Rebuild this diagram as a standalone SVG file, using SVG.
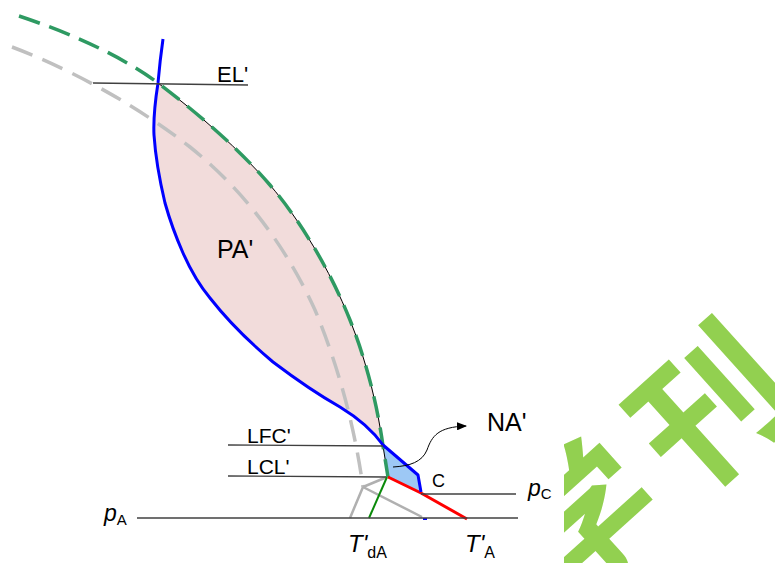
<svg xmlns="http://www.w3.org/2000/svg" width="775" height="563" viewBox="0 0 775 563">
<defs>
<style>
.lbl{font-family:"Liberation Sans",Arial,sans-serif;fill:#000}
.it{font-style:italic}
.ref{stroke:#404040;stroke-width:1.3;fill:none}
.gdash{stroke:#2e9a62;stroke-width:3.5;fill:none;stroke-dasharray:22 10}
.ydash{stroke:#c0c0c0;stroke-width:3.5;fill:none;stroke-dasharray:22 11}
.gray{stroke:#b0b0b0;stroke-width:2.5;fill:none}
.blue{stroke:#0000ff;stroke-width:3;fill:none;stroke-linejoin:round}
.red{stroke:#ff0000;stroke-width:3;fill:none}
.wm{font-family:"Noto Sans CJK SC",sans-serif;font-weight:bold;fill:#92d050}
</style>
<marker id="ah" markerWidth="10" markerHeight="8" refX="9" refY="4" orient="auto" markerUnits="userSpaceOnUse">
<path d="M0,0 L10,4 L0,8 Z" fill="#000"/>
</marker>
<clipPath id="wmclip"><rect x="564" y="0" width="211" height="563"/></clipPath>
</defs>

<g id="watermark" clip-path="url(#wmclip)">
<g transform="translate(704,400) rotate(-42)">
<text class="wm" x="0" y="0" font-size="150" text-anchor="middle" dominant-baseline="central">刊</text>
<text class="wm" x="-172" y="0" font-size="150" text-anchor="middle" dominant-baseline="central">学</text>
</g>
</g>

<g id="PA-region">
<path d="M158,83 Q153,115 154,135 Q156,165 165,203 Q172,228 183,253 Q195,280 210,298 Q235,330 273,362 Q310,390 340,407 Q368,424 383,445 C378,410 368,365 350,320 C330,270 300,220 270,185 C240,150 200,115 158,83 Z" fill="#f2dcdb"/>
</g>
<g id="NA-region">
<path d="M383,446 L418,475 L421,492 L388,477 Z" fill="#9dc8f5"/>
</g>

<g id="connectors">
<path class="ydash" d="M12,47 C60,65 130,100 190,147 C250,195 290,255 315,310 C340,370 355,430 363,487"/>
<path class="gray" d="M363,487 L350,518 M363,487 L387,477 M363,487 L422,517"/>
<path d="M158,83 C200,115 240,150 270,185 C300,220 330,270 350,320 C368,365 378,410 383,446 L388,477" stroke="#000" stroke-width="1" fill="none"/>
<path class="gdash" d="M19,16 C70,33 120,55 158,83 C200,115 240,150 270,185 C300,220 330,270 350,320 C368,365 378,410 383,446 L388,477"/>
<path d="M387,477 L369,518" stroke="#0a8a0a" stroke-width="2" fill="none"/>
<path class="red" d="M388,477 L421,493 L467,519"/>
<path class="blue" d="M163,39 Q160,60 158,83 Q153,115 154,135 Q156,165 165,203 Q172,228 183,253 Q195,280 210,298 Q235,330 273,362 Q310,390 340,407 Q368,424 383,445 L418,475 L421,492"/>
<path d="M423,519 L427,519" stroke="#0000ff" stroke-width="2"/>
<path class="ref" d="M93,83 L248,85"/>
<path class="ref" d="M228,445 L383,446"/>
<path class="ref" d="M228,476 L386,477"/>
<path class="ref" d="M137,518 L518,518"/>
<path class="ref" d="M421,494 L516,494"/>
<path d="M393,467 C410,466 422,462 427,450 C432,436 438,427 466,426" stroke="#000" stroke-width="1" fill="none" marker-end="url(#ah)"/>
</g>

<g id="labels">
<text class="lbl" x="217" y="82" font-size="22">EL'</text>
<text class="lbl" x="217" y="258" font-size="25">PA'</text>
<text class="lbl" x="247" y="443" font-size="21">LFC'</text>
<text class="lbl" x="247" y="474" font-size="21">LCL'</text>
<text class="lbl" x="487" y="431" font-size="25">NA'</text>
<text class="lbl" x="432" y="487" font-size="18">C</text>
<text class="lbl" x="528" y="496"><tspan class="it" font-size="23">p</tspan><tspan font-size="15" dy="3">C</tspan></text>
<text class="lbl" x="104" y="521"><tspan class="it" font-size="23">p</tspan><tspan font-size="15" dy="4">A</tspan></text>
<text class="lbl" x="348" y="552"><tspan class="it" font-size="24">T'</tspan><tspan font-size="16" dy="6">dA</tspan></text>
<text class="lbl" x="465" y="552"><tspan class="it" font-size="24">T'</tspan><tspan font-size="16" dy="6">A</tspan></text>
</g>
</svg>
